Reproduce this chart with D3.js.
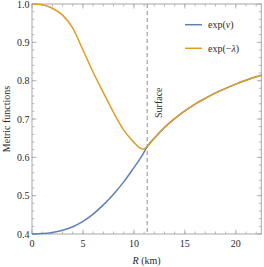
<!DOCTYPE html>
<html>
<head>
<meta charset="utf-8">
<script src="https://cdn.jsdelivr.net/npm/d3@7"></script>
<style>
  body { margin: 0; background: #fff; }
</style>
</head>
<body>
<svg id="chart" width="264" height="267"></svg>
<script>
// values
const radius = [0, 1, 2, 3, 4, 5, 6, 7, 8, 9, 10, 10.5, 10.9, 11.3, 12, 13, 14, 15, 16, 17, 18, 19, 20, 21, 22, 22.5];
const expNu = [0.400, 0.401, 0.404, 0.410, 0.419, 0.433, 0.452, 0.476, 0.504, 0.536, 0.573, 0.592, 0.609, 0.628,
               0.650, 0.678, 0.701, 0.721, 0.739, 0.754, 0.768, 0.780, 0.791, 0.801, 0.810, 0.814];
const expMinusLambda = [1.000, 0.998, 0.989, 0.971, 0.937, 0.880, 0.822, 0.769, 0.717, 0.671, 0.639, 0.626, 0.621, 0.628,
                        0.650, 0.678, 0.701, 0.721, 0.739, 0.754, 0.768, 0.780, 0.791, 0.801, 0.810, 0.814];
const surfaceR = 11.3;
const xTicks = [0, 5, 10, 15, 20];
const yTicks = [0.4, 0.5, 0.6, 0.7, 0.8, 0.9, 1.0];

const serif = '"Liberation Serif", "Times New Roman", "DejaVu Serif", serif';
const textColor = '#2a2a2a';

const svg = d3.select('#chart')
    .attr('font-family', serif);
const plotLeft = 32, plotRight = 261.3, plotTop = 4, plotBottom = 234;

const x = d3.scaleLinear().domain([0, 22.5]).range([plotLeft, plotRight]);
const y = d3.scaleLinear().domain([0.4, 1.0]).range([plotBottom, plotTop]);

const frameColor = '#a8a8a8';

// frame
svg.append('rect')
    .attr('x', plotLeft).attr('y', plotTop)
    .attr('width', plotRight - plotLeft).attr('height', plotBottom - plotTop)
    .attr('fill', 'none').attr('stroke', frameColor).attr('stroke-width', 1);

// ticks on all four sides, pointing inward
const minorX = d3.range(0, 23, 1);
const minorY = d3.range(0.4, 1.0001, 0.02);

function tickLines(g, vals, len, horizontal, pos, dir) {
    g.selectAll(null).data(vals).enter().append('line')
        .attr('x1', d => horizontal ? x(d) : pos)
        .attr('x2', d => horizontal ? x(d) : pos + dir * len)
        .attr('y1', d => horizontal ? pos : y(d))
        .attr('y2', d => horizontal ? pos + dir * len : y(d))
        .attr('stroke', frameColor).attr('stroke-width', 0.8);
}
const tg = svg.append('g');
tickLines(tg, minorX, 2.5, true, plotBottom, -1);
tickLines(tg, xTicks, 4.5, true, plotBottom, -1);
tickLines(tg, minorX, 2.5, true, plotTop, 1);
tickLines(tg, xTicks, 4.5, true, plotTop, 1);
tickLines(tg, minorY, 2.5, false, plotLeft, 1);
tickLines(tg, yTicks, 4.5, false, plotLeft, 1);
tickLines(tg, minorY, 2.5, false, plotRight, -1);
tickLines(tg, yTicks, 4.5, false, plotRight, -1);

// tick labels
svg.append('g').selectAll('text').data(xTicks).enter().append('text')
    .attr('x', d => x(d)).attr('y', 247)
    .attr('text-anchor', 'middle').attr('font-size', 10).attr('fill', textColor)
    .text(d => d);
svg.append('g').selectAll('text').data(yTicks).enter().append('text')
    .attr('x', 29.5).attr('y', d => y(d) + 3.5)
    .attr('text-anchor', 'end').attr('font-size', 10).attr('fill', textColor)
    .text(d => d3.format('.1f')(d));

// axis titles
const xt = svg.append('text').attr('x', x(11.25)).attr('y', 264)
    .attr('text-anchor', 'middle').attr('font-size', 10).attr('fill', textColor);
xt.append('tspan').attr('font-style', 'italic').text('R');
xt.append('tspan').text(' (km)');

svg.append('text')
    .attr('transform', `translate(9.5,${(plotTop + plotBottom) / 2}) rotate(-90)`)
    .attr('text-anchor', 'middle').attr('font-size', 10).attr('fill', textColor)
    .text('Metric functions');

// surface marker
svg.append('line')
    .attr('x1', x(surfaceR)).attr('x2', x(surfaceR))
    .attr('y1', plotTop).attr('y2', plotBottom)
    .attr('stroke', '#8a8a8a').attr('stroke-width', 1)
    .attr('stroke-dasharray', '4,3');
svg.append('text')
    .attr('transform', `translate(${x(surfaceR) + 15},118) rotate(-90)`)
    .attr('font-size', 10).attr('fill', textColor)
    .text('Surface');

// curves
const line = d3.line().curve(d3.curveMonotoneX)
    .x((d, i) => x(radius[i])).y(d => y(d));

svg.append('path').datum(expNu)
    .attr('d', line).attr('fill', 'none')
    .attr('stroke', '#5e81b5').attr('stroke-width', 1.5);
svg.append('path').datum(expMinusLambda)
    .attr('d', line).attr('fill', 'none')
    .attr('stroke', '#e19c24').attr('stroke-width', 1.5);

// legend
const legend = [
    { color: '#5e81b5', parts: [['exp(', false], ['ν', true], [')', false]] },
    { color: '#e19c24', parts: [['exp(−', false], ['λ', true], [')', false]] }
];
legend.forEach((item, i) => {
    const ly = 24.7 + i * 23.6;
    svg.append('line')
        .attr('x1', 185).attr('x2', 202).attr('y1', ly).attr('y2', ly)
        .attr('stroke', item.color).attr('stroke-width', 1.5);
    const t = svg.append('text').attr('x', 208).attr('y', ly + 3.5)
        .attr('font-size', 10).attr('fill', textColor);
    item.parts.forEach(p => {
        t.append('tspan').attr('font-style', p[1] ? 'italic' : 'normal').text(p[0]);
    });
});
</script>
</body>
</html>
